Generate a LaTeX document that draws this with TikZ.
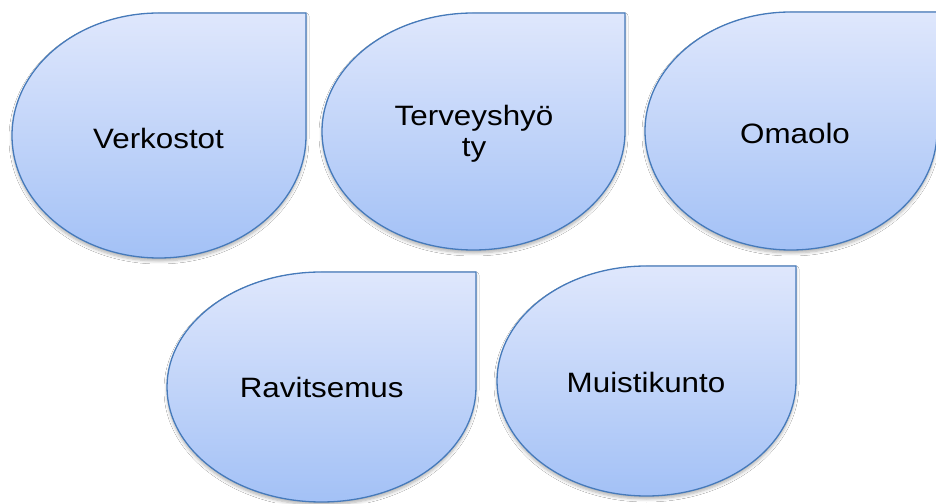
\documentclass[tikz,border=0pt]{standalone}
\usepackage{fontspec}
\newfontfamily\lab[FakeStretch=1.12]{Liberation Sans}
\usetikzlibrary{shadows.blur}
\definecolor{dropTop}{RGB}{223,231,252}
\definecolor{dropBot}{RGB}{163,193,246}
\definecolor{dropLine}{RGB}{70,122,186}
\tikzset{
  drop/.style={draw=dropLine, line width=1.3pt, top color=dropTop, bottom color=dropBot,
    blur shadow={shadow xshift=0pt, shadow yshift=-3pt, shadow blur radius=3pt, shadow blur steps=6, shadow opacity=30}},
  lbl/.style={font={\lab\fontsize{28}{31}\selectfont}, text=black, inner sep=0pt, align=center, anchor=base}
}
\newcommand{\teardrop}[4]{%
  \path[drop] (#1,#2+#4) arc[start angle=90, end angle=360, x radius=#3, y radius=#4] -- (#1+#3,#2+#4) -- cycle;}
\begin{document}
\begin{tikzpicture}[x=1pt,y=1pt]
\useasboundingbox (0,0) rectangle (936,503);
\fill[white] (0,0) rectangle (936,503);
\teardrop{159}{367.5}{147}{122.5}
\teardrop{473.5}{371.5}{151.5}{118.5}
\teardrop{791}{372}{146}{119}
\teardrop{321.5}{116}{154.5}{115}
\teardrop{646.5}{122}{149.5}{115}
\node[lbl] (verkostot) at (158.5,354.7) {Verkostot};
\node[lbl] (terveys) at (474,346) {Terveyshyö\\ty};
\node[lbl] (omaolo) at (795,359) {Omaolo};
\node[lbl] (ravitsemus) at (321.7,105) {Ravitsemus};
\node[lbl] (muisti) at (646,110) {Muistikunto};
\end{tikzpicture}
\end{document}
